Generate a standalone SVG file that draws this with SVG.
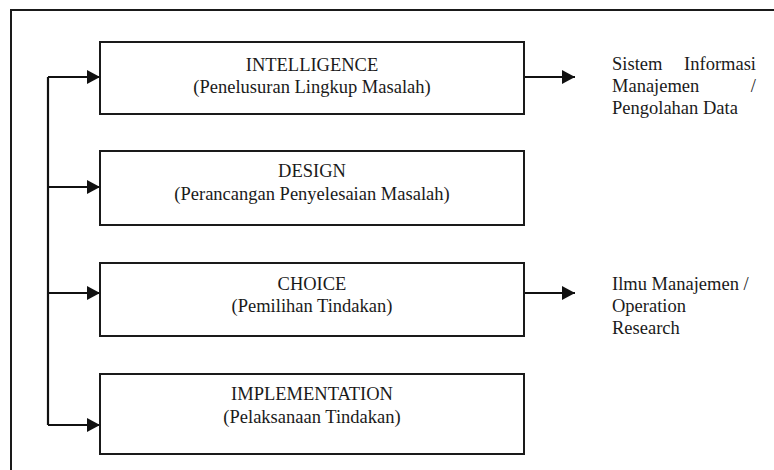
<svg xmlns="http://www.w3.org/2000/svg" width="774" height="470" viewBox="0 0 774 470">
<style>
.box{fill:none;stroke:#1a1a1a;stroke-width:2}
.ln{fill:none;stroke:#111;stroke-width:2.2}
.t{font-family:'Liberation Serif',Tinos,'Times New Roman',Times,'DejaVu Serif',serif;font-size:18.5px;fill:#1a1a1a}
.c{text-anchor:middle}
.e{text-anchor:end}
</style>
<defs>
<marker id="ah" markerUnits="userSpaceOnUse" markerWidth="13" markerHeight="14" refX="13" refY="7" orient="auto">
<path d="M0,0 L13,7 L0,14 Z" fill="#111"/>
</marker>
</defs>
<rect x="0" y="0" width="774" height="470" fill="#fff"/>
<rect x="11" y="10" width="800" height="500" class="box"/>
<g id="connectors">
<path class="ln" d="M48,77 V425"/>
<path class="ln" d="M48,77 H100" marker-end="url(#ah)"/>
<path class="ln" d="M48,187 H100" marker-end="url(#ah)"/>
<path class="ln" d="M48,293 H100" marker-end="url(#ah)"/>
<path class="ln" d="M48,425 H100" marker-end="url(#ah)"/>
<path class="ln" d="M524,77 H575" marker-end="url(#ah)"/>
<path class="ln" d="M524,293 H575" marker-end="url(#ah)"/>
</g>
<g id="intelligence" font-family="Liberation Serif, serif">
<rect class="box" x="100" y="42" width="424" height="72"/>
<text class="t c" x="312" y="71">INTELLIGENCE</text>
<text class="t c" x="312" y="93">(Penelusuran Lingkup Masalah)</text>
</g>
<g id="design">
<rect class="box" x="100" y="151" width="424" height="74"/>
<text class="t c" x="312" y="177">DESIGN</text>
<text class="t c" x="312" y="200">(Perancangan Penyelesaian Masalah)</text>
</g>
<g id="choice">
<rect class="box" x="100" y="263" width="424" height="73"/>
<text class="t c" x="312" y="290">CHOICE</text>
<text class="t c" x="312" y="312">(Pemilihan Tindakan)</text>
</g>
<g id="implementation">
<rect class="box" x="100" y="374" width="424" height="80"/>
<text class="t c" x="312" y="400">IMPLEMENTATION</text>
<text class="t c" x="312" y="423">(Pelaksanaan Tindakan)</text>
</g>
<g id="sim">
<text class="t" x="612" y="70">Sistem</text>
<text class="t e" x="756" y="70">Informasi</text>
<text class="t" x="612" y="92">Manajemen</text>
<text class="t e" x="756" y="92">/</text>
<text class="t" x="612" y="114">Pengolahan Data</text>
</g>
<g id="ilmu">
<text class="t" x="612" y="290">Ilmu Manajemen /</text>
<text class="t" x="612" y="312">Operation</text>
<text class="t" x="612" y="334">Research</text>
</g>
</svg>
